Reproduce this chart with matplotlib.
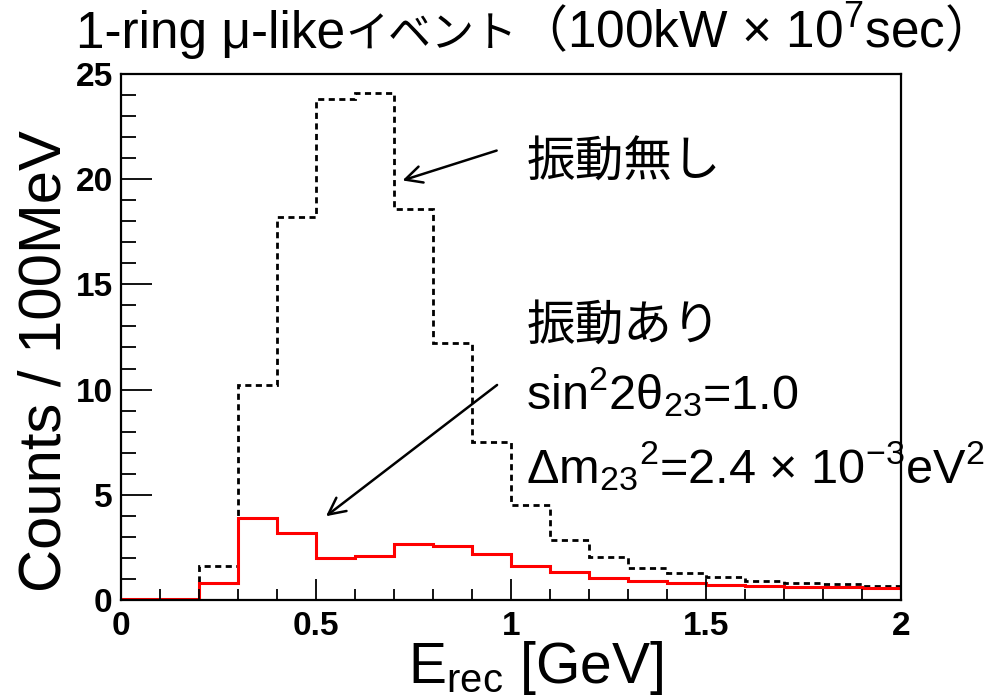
import numpy as np
import matplotlib
matplotlib.use("Agg")
import matplotlib.pyplot as plt
from matplotlib.ticker import MultipleLocator

plt.rcParams['font.family'] = ['Liberation Sans', 'Noto Sans CJK JP', 'DejaVu Sans']
plt.rcParams['mathtext.fontset'] = 'custom'
plt.rcParams['mathtext.rm'] = 'Liberation Sans'
plt.rcParams['mathtext.it'] = 'Liberation Sans:italic'
plt.rcParams['mathtext.bf'] = 'Liberation Sans:bold'

# 0.1 GeV bins from 0 to 2 GeV
edges = np.round(np.arange(0, 2.05, 0.1), 2)
no_osc = [0.05, 0.05, 1.6, 10.2, 18.2, 23.8, 24.1, 18.6, 12.2, 7.5,
          4.5, 2.85, 2.03, 1.51, 1.27, 1.08, 0.92, 0.82, 0.76, 0.67]
with_osc = [0.05, 0.05, 0.8, 3.9, 3.2, 2.0, 2.1, 2.65, 2.57, 2.2,
            1.63, 1.32, 1.05, 0.92, 0.81, 0.73, 0.67, 0.63, 0.62, 0.59]

# title pieces (the kana are set a bit smaller than the latin in the original)
title_parts = [('1-ring μ-like', 37), ('イベント', 31), ('（', 36),
               ('100kW × 10$^{7}$sec', 37), ('）', 36)]

fig = plt.figure(figsize=(9.99, 7.0), dpi=100)
ax = fig.add_axes([0.1211, 0.1429, 0.7808, 0.7514])

ax.stairs(no_osc, edges, baseline=None, color='black', lw=2.0,
          linestyle=(0, (2.2, 1.6)))
ax.stairs(with_osc, edges, baseline=None, color='red', lw=2.2)

ax.set_xlim(0, 2)
ax.set_ylim(0, 25)
ax.xaxis.set_major_locator(MultipleLocator(0.5))
ax.xaxis.set_minor_locator(MultipleLocator(0.1))
ax.yaxis.set_major_locator(MultipleLocator(5))
ax.yaxis.set_minor_locator(MultipleLocator(1))
ax.set_xticks([0, 0.5, 1, 1.5, 2], ['0', '0.5', '1', '1.5', '2'])
ax.tick_params(which='both', direction='in', top=False, right=False, width=1.3)
ax.tick_params(axis='y', which='major', length=22, pad=6)
ax.tick_params(axis='y', which='minor', length=11)
ax.tick_params(axis='x', which='major', length=15, pad=8)
ax.tick_params(axis='x', which='minor', length=8)
for lab in ax.get_xticklabels() + ax.get_yticklabels():
    lab.set_fontweight('bold')
    lab.set_fontsize(24)
for sp in ax.spines.values():
    sp.set_linewidth(1.6)

ax.set_xlabel(r'E$_{\mathrm{rec}}$ [GeV]', fontsize=41, labelpad=-2)
ax.xaxis.label.set_x(0.531)
ax.set_ylabel('Counts / 100MeV', fontsize=43, labelpad=2)
ax.yaxis.label.set_y(0.455)

# chain the title pieces along one baseline
renderer = fig.canvas.get_renderer()
x0 = 0.076
for s, size in title_parts:
    t = fig.text(x0, 0.932, s, fontsize=size, ha='left', va='baseline')
    bb = t.get_window_extent(renderer=renderer)
    x0 = fig.transFigure.inverted().transform((bb.x1, bb.y0))[0]

ax.text(0.527, 0.748, '振動無し', transform=fig.transFigure, fontsize=35)
ax.text(0.527, 0.515, '振動あり', transform=fig.transFigure, fontsize=35)
ax.text(0.527, 0.415, 'sin$^{2}$2θ$_{23}$=1.0', transform=fig.transFigure, fontsize=35)
ax.text(0.527, 0.31, r'Δm$_{23}$$^{2}$=2.4 × 10$^{\mathrm{-}3}$eV$^{2}$',
        transform=fig.transFigure, fontsize=35)

ax.annotate('', xy=(0.715, 19.9), xytext=(0.97, 21.4),
            arrowprops=dict(arrowstyle='->', lw=1.8, color='black',
                            mutation_scale=30))
ax.annotate('', xy=(0.52, 3.9), xytext=(0.97, 10.3),
            arrowprops=dict(arrowstyle='->', lw=1.8, color='black',
                            mutation_scale=30))

fig.savefig('out.png', dpi=100)
